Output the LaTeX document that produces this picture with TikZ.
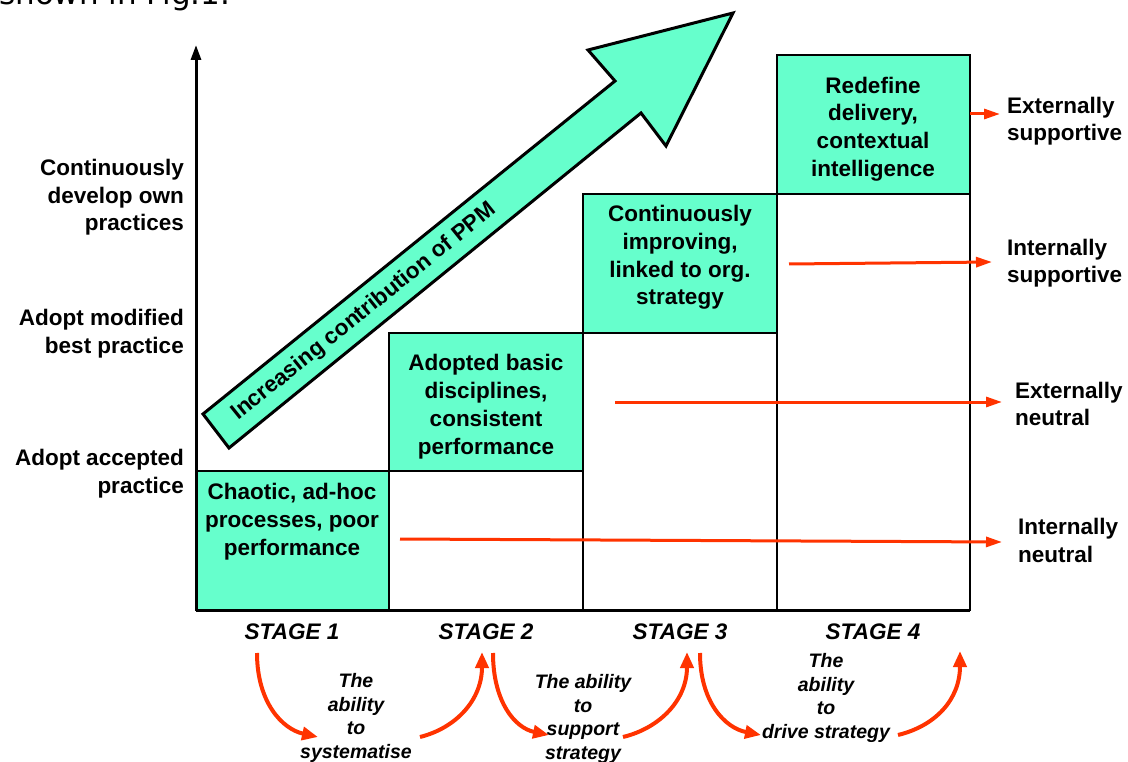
\documentclass[tikz,border=0pt]{standalone}
\usepackage{fontspec}
\setmainfont{Liberation Sans}
\newfontfamily\bodyfont{DejaVu Sans}
\usetikzlibrary{arrows.meta}
\definecolor{mint}{RGB}{102,255,204}
\definecolor{flame}{RGB}{255,51,0}
\tikzset{
	stagebox/.style={draw=black, line width=2pt, fill=mint},
	cell/.style={draw=black, line width=2pt, fill=white},
	axis/.style={line width=3pt},
	% multi-line nodes sit on the baseline of their last line
	boxtext/.style={font=\fontsize{22.5}{27.8}\selectfont\bfseries, align=center, inner sep=0pt, anchor=base},
	levels/.style={font=\fontsize{22.5}{27.4}\selectfont\bfseries, align=right, inner sep=0pt, anchor=base east},
	impact/.style={font=\fontsize{22.5}{27.4}\selectfont\bfseries, align=left, inner sep=0pt, anchor=base west},
	stagename/.style={font=\fontsize{22.5}{27}\selectfont\bfseries\itshape, inner sep=0pt, anchor=base},
	ability/.style={font=\fontsize{19.5}{23.4}\selectfont\bfseries\itshape, align=center, inner sep=0pt, anchor=base},
	push/.style={draw=flame, line width=3pt, -{Triangle[length=16pt,width=10pt]}},
	swing/.style={draw=flame, line width=4pt, -{Triangle[length=16pt,width=13pt]}}
}

\begin{document}
\begin{tikzpicture}[x=1pt, y=-1pt]
		\useasboundingbox (0,0) rectangle (1128,762);
		%%%%% START %%%%%
		\node[anchor=base west, inner sep=0pt, font=\bodyfont\fontsize{31}{36}\selectfont] (caption) at (-1,5) {shown in Fig.1.};
		
		% empty columns under the steps
		\draw[cell] (389,471) rectangle (583,610);
		\draw[cell] (583,333) rectangle (777,610);
		\draw[cell] (777,194) rectangle (970,610);
		
		% the four steps
		\draw[stagebox] (196,471) rectangle (389,610);
		\draw[stagebox] (389,333) rectangle (583,471);
		\draw[stagebox] (583,194) rectangle (777,333);
		\draw[stagebox] (777,55) rectangle (970,194);
		
		\node[boxtext] (chaotic) at (292,555) {Chaotic, ad-hoc\\processes, poor\\performance};
		\node[boxtext] (basic) at (486,454) {Adopted basic\\disciplines,\\consistent\\performance};
		\node[boxtext] (improving) at (680,305) {Continuously\\improving,\\linked to org.\\strategy};
		\node[boxtext] (redefine) at (873,176.5) {Redefine\\delivery,\\contextual\\intelligence};
		
		% axes
		\draw[axis] (196,610) -- (970,610);
		\draw[axis, -{Triangle[length=15pt,width=10pt]}] (196,611) -- (196,45);
		
		\node[levels] (own) at (184,230.5) {Continuously\\develop own\\practices};
		\node[levels] (modified) at (184,353) {Adopt modified\\best practice};
		\node[levels] (accepted) at (184,493) {Adopt accepted\\practice};
		
		% big arrow
		\draw[fill=mint, line width=3pt, line join=miter] (203,414) -- (615,81) -- (588,50) -- (733,13) -- (666,146) -- (641,113) -- (229,448) -- cycle;
		\node[font=\fontsize{22.5}{27}\selectfont\bfseries, rotate=38.9, inner sep=0pt] (ppm) at (364,312) {Increasing contribution of PPM};
		
		% outcomes on the right
		\node[impact] (extsup) at (1007,140.5) {Externally\\supportive};
		\node[impact] (intsup) at (1007,282.5) {Internally\\supportive};
		\node[impact] (extneu) at (1015,425.5) {Externally\\neutral};
		\node[impact] (intneu) at (1018,562) {Internally\\neutral};
		
		\coordinate (s4) at (970,114);  \coordinate (e4) at (1000,114);
		\coordinate (s3) at (789,264);  \coordinate (e3) at (992,262);
		\coordinate (s2) at (615,402);  \coordinate (e2) at (1002,402);
		\coordinate (s1) at (400,539);  \coordinate (e1) at (1002,542);
		\draw[push] (s4) -- (e4);
		\draw[push] (s3) -- (e3);
		\draw[push] (s2) -- (e2);
		\draw[push] (s1) -- (e1);
		
		% stage names
		\node[stagename] (stage1) at (292,639) {STAGE 1};
		\node[stagename] (stage2) at (486,639) {STAGE 2};
		\node[stagename] (stage3) at (680,639) {STAGE 3};
		\node[stagename] (stage4) at (873,639) {STAGE 4};
		
		% abilities between the stages
		\draw[swing] (257,653) .. controls (257,702) and (282,729) .. (318,737);
		\draw[swing] (420,737) .. controls (456,728) and (482,700) .. (482,652);
		\draw[swing] (493,653) .. controls (493,702) and (515,728) .. (549,735);
		\draw[swing] (623,737) .. controls (660,728) and (687,700) .. (687,652);
		\draw[swing] (700,653) .. controls (700,702) and (725,728) .. (761,735);
		\draw[swing] (898,735) .. controls (935,726) and (960,700) .. (960,651);
		
		\node[ability] (sys) at (356,758) {The\\ability\\to\\systematise};
		\node[ability] (sup) at (583,759) {The ability\\to\\support\\strategy};
		\node[ability] (drv) at (826,738) {The\\ability\\to\\drive strategy};
		%%%%% END %%%%%
	\end{tikzpicture}
\end{document}
